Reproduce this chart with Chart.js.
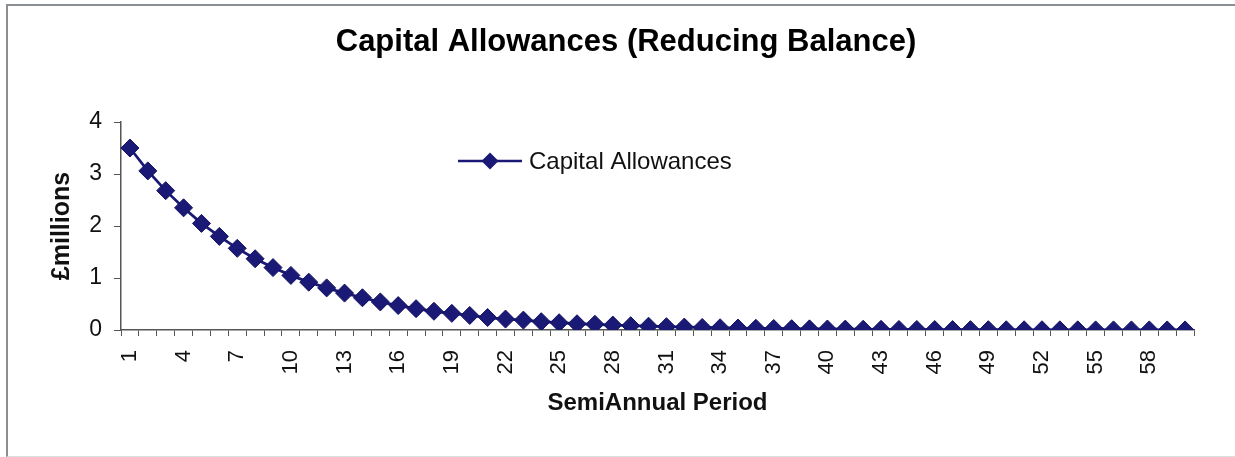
<!DOCTYPE html>
<html>
<head>
<meta charset="utf-8">
<script src="https://cdn.jsdelivr.net/npm/chart.js@4"></script>
<style>
  body { margin: 0; background: #fff; }
  #frame { position: absolute; left: 6px; top: 4px; width: 1240px; height: 450px;
           border-left: 2px solid #8a8f94; border-top: 2px solid #8a8f94; border-bottom: 1px solid #d8e0e4; }
  #wrap { position: absolute; left: 0; top: 0; width: 1235px; height: 457px; }
</style>
</head>
<body>
<div id="frame"></div>
<div id="wrap"><canvas id="myChart"></canvas></div>
<script>
// semiannual periods 1..60
var periodos = [];
for (var i = 1; i <= 60; i++) periodos.push(String(i));

// capital allowances, £ millions
var allowances = [
  3.50, 3.06, 2.68, 2.35, 2.05, 1.80, 1.57, 1.37, 1.20, 1.05,
  0.92, 0.81, 0.71, 0.62, 0.54, 0.47, 0.41, 0.36, 0.32, 0.28,
  0.24, 0.21, 0.19, 0.16, 0.14, 0.12, 0.11, 0.095, 0.083, 0.073,
  0.064, 0.056, 0.049, 0.043, 0.037, 0.033, 0.029, 0.025, 0.022, 0.019,
  0.017, 0.015, 0.013, 0.011, 0.010, 0.009, 0.008, 0.007, 0.006, 0.005,
  0.004, 0.004, 0.003, 0.003, 0.002, 0.002, 0.002, 0.002, 0.001, 0.001
];

var yTicks = [0, 1, 2, 3, 4];

var titulo = "Capital Allowances (Reducing Balance)";
var serie = "Capital Allowances";

var azul = "#1a1a76";
var fuente = "'Liberation Sans', Arial, sans-serif";

// title and legend drawn by hand, like the Excel original
var adornos = {
  id: 'adornos',
  afterDraw: function (chart) {
    var ctx = chart.ctx;
    ctx.save();
    ctx.fillStyle = "#000";
    ctx.font = "bold 31px " + fuente;
    ctx.textAlign = "center";
    ctx.textBaseline = "middle";
    ctx.fillText(titulo, 626, 42);

    var y = 161;
    ctx.strokeStyle = azul;
    ctx.lineWidth = 2.5;
    ctx.beginPath();
    ctx.moveTo(458, y);
    ctx.lineTo(522, y);
    ctx.stroke();
    ctx.fillStyle = azul;
    ctx.beginPath();
    ctx.moveTo(490, y - 8.5);
    ctx.lineTo(498.5, y);
    ctx.lineTo(490, y + 8.5);
    ctx.lineTo(481.5, y);
    ctx.closePath();
    ctx.fill();
    ctx.fillStyle = "#111";
    ctx.font = "24px " + fuente;
    ctx.textAlign = "left";
    ctx.fillText(serie, 529, y + 1);
    ctx.restore();
  }
};

new Chart("myChart", {
  type: "line",
  data: {
    labels: periodos,
    datasets: [{
      label: serie,
      data: allowances,
      borderColor: azul,
      backgroundColor: azul,
      borderWidth: 2.8,
      pointStyle: "rectRot",
      pointRadius: 9,
      pointBorderWidth: 1,
      pointBorderColor: "#121262",
      pointBackgroundColor: azul,
      fill: false,
      tension: 0
    }]
  },
  options: {
    responsive: true,
    maintainAspectRatio: false,
    animation: false,
    layout: { padding: { left: 0, right: 41, top: 122, bottom: 0 } },
    plugins: {
      legend: { display: false },
      tooltip: { enabled: false },
      title: { display: false }
    },
    scales: {
      x: {
        offset: true,
        afterFit: function (s) { s.height = 127; },
        grid: { offset: true, drawOnChartArea: false, tickLength: 6, color: "#555" },
        border: { color: "#555", width: 1.5 },
        ticks: {
          autoSkip: false,
          maxRotation: 90,
          minRotation: 90,
          padding: 14,
          color: "#111",
          font: { family: fuente, size: 22 },
          callback: function (v, i) { return i % 3 === 0 ? periodos[i] : ""; }
        },
        title: {
          display: true,
          text: "SemiAnnual Period",
          color: "#111",
          font: { family: fuente, size: 24, weight: "bold" },
          padding: { top: 0, bottom: 39 }
        }
      },
      y: {
        min: 0,
        max: 4,
        afterFit: function (s) { s.width = 121; },
        afterBuildTicks: function (s) { s.ticks = yTicks.map(function (v) { return { value: v }; }); },
        grid: { drawOnChartArea: false, tickLength: 7, color: "#555" },
        border: { color: "#555", width: 1.5 },
        ticks: {
          padding: 12,
          color: "#111",
          font: { family: fuente, size: 23 }
        },
        title: {
          display: true,
          text: "£millions",
          color: "#111",
          font: { family: fuente, size: 25, weight: "bold" },
          padding: { top: 47, bottom: 0 }
        }
      }
    }
  },
  plugins: [adornos]
});
</script>
</body>
</html>
